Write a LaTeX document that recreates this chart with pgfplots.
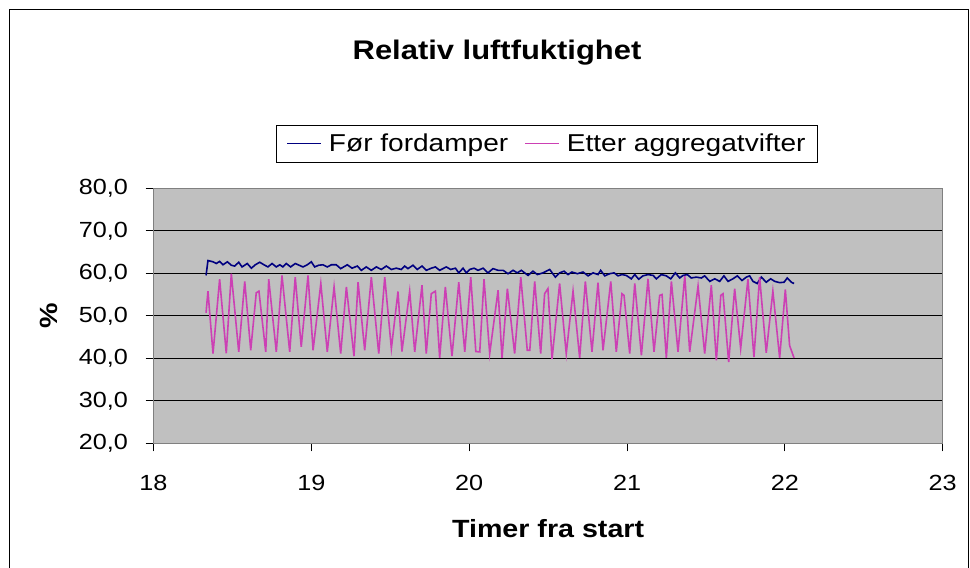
\documentclass[border=0pt]{standalone}
\usepackage{pgfplots}
\pgfplotsset{compat=1.18}
\usepackage{fontspec}
\setmainfont{Liberation Sans}[FakeStretch=1.15]
\definecolor{navyline}{RGB}{0,0,128}
\definecolor{magline}{RGB}{204,64,180}
\definecolor{plotgray}{RGB}{192,192,192}
\definecolor{framegray}{RGB}{128,128,128}
\begin{document}
\begin{tikzpicture}[x=1bp,y=1bp]
\useasboundingbox (0,0) rectangle (970,568);
\draw[black, line width=1bp] (9.5,-5) -- (9.5,558.5) -- (968.5,558.5) -- (968.5,-5);
\begin{axis}[
  at={(153.5bp,124.7bp)}, anchor=south west,
  scale only axis,
  width=789.2bp, height=255bp,
  xmin=18, xmax=23, ymin=20, ymax=80,
  xtick={18,19,20,21,22,23},
  ytick={20,30,40,50,60,70,80},
  axis background/.style={fill=plotgray},
  axis line style={framegray, line width=1bp},
  ymajorgrids,
  grid style={black, line width=0.8bp},
  tick align=outside,
  tick pos=left,
  major tick length=8bp,
  tick style={black, line width=0.8bp},
  /pgf/number format/assume math mode=true,
  ticklabel style={font=\fontsize{22}{26}\selectfont},
  yticklabel style={/pgf/number format/fixed, /pgf/number format/fixed zerofill, /pgf/number format/precision=1, /pgf/number format/use comma, xshift=-14bp},
  xticklabel style={yshift=-20bp},
  xlabel={\textbf{Timer fra start}},
  ylabel={\textbf{\%}},
  label style={font=\fontsize{25}{30}\selectfont},
  xlabel style={at={(axis description cs:0.5,0)}, anchor=center, yshift=-85bp},
  ylabel style={at={(axis description cs:-0.133,0.5)}, anchor=center},
  title={\textbf{Relativ luftfuktighet}},
  title style={at={(axis description cs:0.4353,1.507)}, anchor=center, font=\fontsize{27}{32}\selectfont},
  legend columns=2,
  legend style={at={(axis description cs:0.4986,1.1757)}, anchor=center,
    draw=black, fill=white, line width=0.8bp,
    font=\fontsize{24.5}{29}\selectfont,
    inner xsep=10bp, inner ysep=7bp,
    /tikz/every odd column/.append style={column sep=5bp},
    /tikz/every even column/.append style={column sep=14bp}},
  legend image code/.code={\draw[#1, line width=1.6bp] (0bp,0bp) -- (34bp,0bp);},
]
\addplot[navyline, line width=1.6bp] coordinates {
(18.333,59.5) (18.345,63.0) (18.377,62.7) (18.398,62.3) (18.419,62.8) (18.440,62.0)
(18.468,62.7) (18.493,61.9) (18.514,61.7) (18.540,62.6) (18.561,61.5) (18.594,62.3)
(18.620,61.2) (18.645,62.0) (18.673,62.6) (18.700,62.0) (18.725,61.5) (18.751,62.3)
(18.778,61.5) (18.800,62.0) (18.820,61.5) (18.841,62.3) (18.869,61.5) (18.898,62.3)
(18.947,61.5) (18.974,62.0) (19.000,62.7) (19.021,61.5) (19.047,61.9) (19.074,62.0)
(19.101,61.5) (19.127,62.0) (19.158,62.0) (19.186,61.1) (19.228,62.0) (19.258,61.2)
(19.291,61.7) (19.317,60.7) (19.348,61.5) (19.380,60.7) (19.412,61.5) (19.443,60.9)
(19.475,61.7) (19.507,60.9) (19.538,61.2) (19.570,60.9) (19.591,61.7) (19.612,61.1)
(19.644,61.9) (19.671,60.9) (19.701,61.7) (19.728,60.7) (19.760,61.2) (19.786,61.5)
(19.813,60.7) (19.855,61.5) (19.883,60.9) (19.913,61.2) (19.934,60.1) (19.961,61.2)
(19.982,60.1) (20.003,60.9) (20.031,61.2) (20.056,60.7) (20.088,61.2) (20.119,60.1)
(20.151,61.1) (20.183,60.7) (20.215,60.7) (20.246,59.9) (20.278,60.7) (20.305,60.1)
(20.330,60.7) (20.373,59.5) (20.404,60.5) (20.432,59.7) (20.468,60.1) (20.510,60.9)
(20.546,59.1) (20.573,60.1) (20.601,60.5) (20.626,59.7) (20.651,60.3) (20.685,59.9)
(20.721,60.3) (20.753,59.4) (20.785,60.1) (20.816,59.7) (20.833,60.7) (20.859,59.4)
(20.890,59.9) (20.918,60.1) (20.943,59.4) (20.968,59.7) (20.995,59.5) (21.027,58.7)
(21.049,59.7) (21.074,58.6) (21.101,59.4) (21.133,59.7) (21.165,59.5) (21.186,58.7)
(21.217,59.7) (21.249,59.4) (21.277,58.7) (21.306,60.1) (21.334,58.9) (21.355,59.5)
(21.382,59.7) (21.407,58.9) (21.439,59.1) (21.471,58.9) (21.492,59.4) (21.524,58.1)
(21.556,58.7) (21.587,58.1) (21.614,59.4) (21.640,58.1) (21.671,58.7) (21.699,59.4)
(21.728,58.3) (21.756,59.1) (21.777,59.4) (21.798,58.1) (21.825,57.6) (21.851,59.1)
(21.882,57.9) (21.910,58.7) (21.936,58.1) (21.967,57.8) (21.995,57.9) (22.015,58.9)
(22.041,57.9) (22.058,57.6)
};
\addlegendentry{Før fordamper}
\addplot[magline, line width=1.6bp] coordinates {
(18.333,50.7) (18.345,55.8) (18.377,41.1) (18.419,58.6) (18.461,41.2) (18.493,59.9)
(18.540,41.5) (18.578,58.1) (18.616,41.9) (18.651,55.4) (18.668,55.8) (18.711,41.5)
(18.730,58.6) (18.778,41.5) (18.814,59.5) (18.863,41.5) (18.898,59.1) (18.936,42.7)
(18.979,59.5) (19.011,41.9) (19.060,57.6) (19.101,41.5) (19.144,56.8) (19.186,41.1)
(19.222,56.8) (19.270,40.5) (19.296,57.9) (19.338,41.9) (19.380,59.1) (19.427,41.1)
(19.465,59.1) (19.507,42.3) (19.549,55.7) (19.574,41.6) (19.623,55.8) (19.655,41.5)
(19.701,57.2) (19.728,41.1) (19.760,55.2) (19.786,55.8) (19.813,40.1) (19.849,56.8)
(19.891,40.5) (19.934,57.9) (19.972,41.5) (20.010,59.1) (20.042,41.6) (20.067,41.5)
(20.094,58.6) (20.130,41.1) (20.183,56.0) (20.208,40.1) (20.242,56.4) (20.288,41.1)
(20.327,59.1) (20.368,41.9) (20.384,41.9) (20.415,58.1) (20.453,41.1) (20.478,55.2)
(20.499,56.4) (20.525,39.8) (20.573,57.6) (20.615,41.1) (20.658,55.8) (20.700,40.1)
(20.736,58.1) (20.778,41.5) (20.816,57.8) (20.848,41.9) (20.897,58.1) (20.932,41.5)
(20.968,55.2) (20.981,54.8) (21.017,41.1) (21.049,57.6) (21.091,40.7) (21.133,58.7)
(21.171,41.5) (21.207,54.8) (21.222,55.0) (21.249,40.1) (21.281,58.1) (21.323,41.5)
(21.366,59.4) (21.397,41.5) (21.450,57.0) (21.492,41.1) (21.534,57.2) (21.566,39.5)
(21.594,54.8) (21.608,55.2) (21.644,39.1) (21.682,56.4) (21.720,42.3) (21.766,58.6)
(21.804,40.3) (21.840,59.1) (21.882,41.3) (21.924,55.8) (21.967,40.1) (22.003,56.2)
(22.030,43.0) (22.058,40.1)
};
\addlegendentry{Etter aggregatvifter}
\end{axis}
\end{tikzpicture}
\end{document}
